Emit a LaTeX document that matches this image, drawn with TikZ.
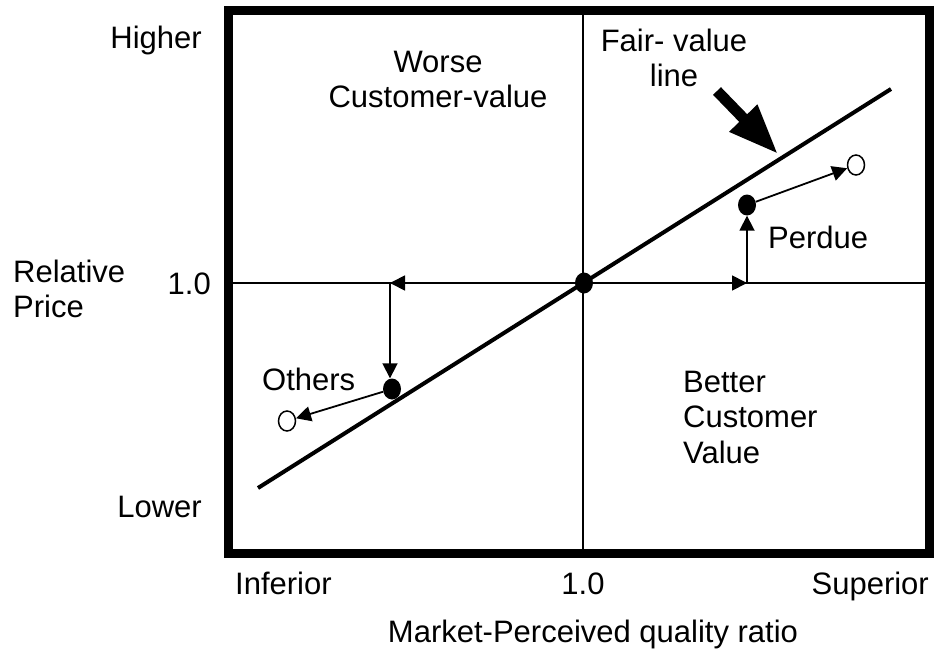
\documentclass[tikz,border=0pt]{standalone}
\usepackage{fontspec}
\setmainfont{Liberation Sans}
\usetikzlibrary{arrows.meta,shapes.geometric}
\begin{document}
\begin{tikzpicture}[x=1pt,y=-1pt,
  lbl/.style={inner sep=0pt, font=\fontsize{31}{35}\selectfont},
  axisline/.style={line width=1.8pt},
  framebox/.style={line width=9pt},
  fairline/.style={line width=4pt},
  thinarrow/.style={line width=1.8pt, -{Triangle[length=15pt,width=15pt]}},
  pointer/.style={line width=11pt, -{Triangle[length=50pt,width=36pt]}},
  fulldot/.style={ellipse, fill=black, minimum width=18pt, minimum height=21pt, inner sep=0pt},
  emptydot/.style={ellipse, draw=black, fill=white, line width=1.5pt, minimum width=17pt, minimum height=20pt, inner sep=0pt}]

\useasboundingbox (0,0) rectangle (934,650);

% quadrant axes
\coordinate (hl) at (229,283);
\coordinate (hr) at (929,283);
\coordinate (vt) at (583,11);
\coordinate (vb) at (583,553);
\draw[axisline] (hl) -- (hr);
\draw[axisline] (vt) -- (vb);

% outer frame
\draw[framebox] (228.5,11) rectangle (929,553.5);

% fair-value line
\coordinate (f1) at (258,488);
\coordinate (f2) at (891,89);
\draw[fairline] (f1) -- (f2);

% pointer to the fair-value line
\coordinate (pa) at (717,91);
\coordinate (pb) at (778,154);
\draw[pointer] (pa) -- (pb);

% positions
\node[fulldot] (c) at (584,283) {};
\node[fulldot] (pd) at (747,205) {};
\node[emptydot] (po) at (856,165) {};
\node[fulldot] (od) at (392,389) {};
\node[emptydot] (oo) at (287,421) {};
\coordinate (pr) at (747,283);
\coordinate (ol) at (390,283);

% moves
\draw[thinarrow] (c) -- (pr);
\draw[thinarrow] (pr) -- (pd.south -| pr);
\draw[thinarrow] (pd) -- (po);
\draw[thinarrow] (c) -- (ol);
\draw[thinarrow] (ol) -- (od.north -| ol);
\draw[thinarrow] (od) -- (oo);

% axis labels
\node[lbl, anchor=base east] (hi) at (202,49) {Higher};
\node[lbl, anchor=base east] (lo) at (202,517) {Lower};
\node[lbl, anchor=base west] (rel) at (13,282) {Relative};
\node[lbl, anchor=base west] (pri) at (13,317) {Price};
\node[lbl, anchor=base east] (one) at (211,294) {1.0};
\node[lbl, anchor=base west] (inf) at (235,594) {Inferior};
\node[lbl, anchor=base] (oneb) at (583,594) {1.0};
\node[lbl, anchor=base east] (sup) at (929,594) {Superior};
\node[lbl, anchor=base] (mpq) at (593,642) {Market-Perceived quality ratio};

% region labels
\node[lbl, anchor=base] (w1) at (438,73) {Worse};
\node[lbl, anchor=base] (w2) at (438,108) {Customer-value};
\node[lbl, anchor=base] (fv1) at (674,52) {Fair- value};
\node[lbl, anchor=base] (fv2) at (674,87) {line};
\node[lbl, anchor=base west] (b1) at (683,392) {Better};
\node[lbl, anchor=base west] (b2) at (683,427) {Customer};
\node[lbl, anchor=base west] (b3) at (683,463) {Value};
\node[lbl, anchor=base west] (per) at (768,248) {Perdue};
\node[lbl, anchor=base west] (oth) at (262,390) {Others};
\end{tikzpicture}
\end{document}
